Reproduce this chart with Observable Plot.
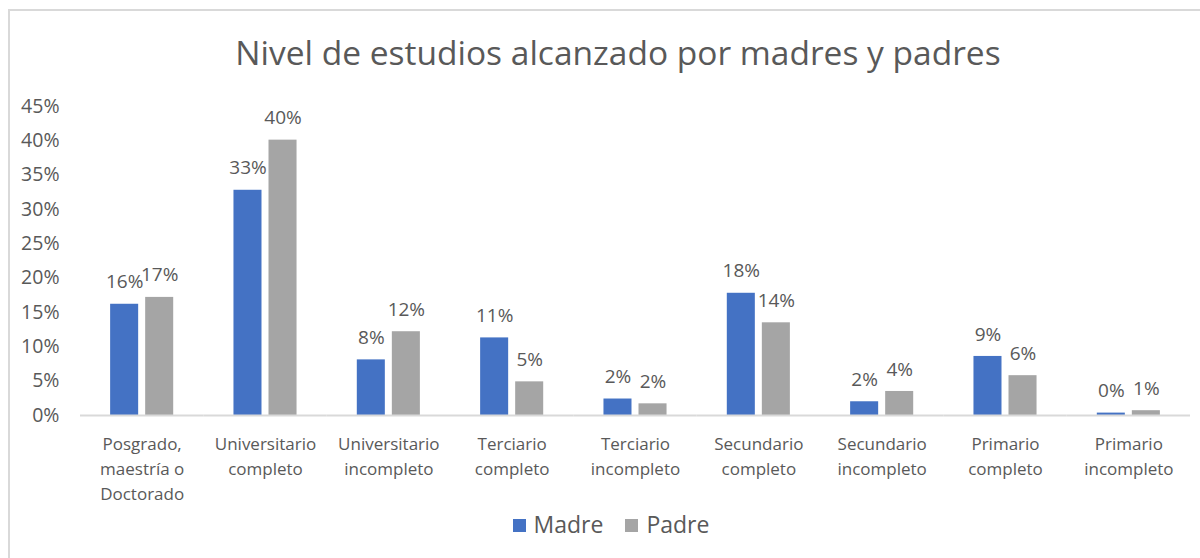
<!DOCTYPE html>
<html>
<head>
<meta charset="utf-8">
<script src="https://cdn.jsdelivr.net/npm/d3@7"></script>
<script src="https://cdn.jsdelivr.net/npm/@observablehq/plot@0.6"></script>
<style>
  html, body { margin: 0; padding: 0; background: #fff; }
  #wrap { position: relative; width: 1200px; height: 558px; overflow: hidden; font-family: "Open Sans", sans-serif; color: #595959; }
  #border { position: absolute; left: 8px; top: 9px; width: 1300px; height: 700px; border: 2px solid #d9d9d9; box-sizing: border-box; }
  #title { position: absolute; left: 0; width: 1236px; top: 32px; text-align: center; font-size: 33.5px; font-weight: 400; color: #595959; line-height: 40px; }
  #chart { position: absolute; left: 0; top: 90px; }
  #legend { position: absolute; left: 0; width: 1222px; top: 509px; text-align: center; font-size: 23px; line-height: 30px; color: #595959; }
  #legend span.item { display: inline-block; margin: 0 11px; }
  #legend span.sw { display: inline-block; width: 13px; height: 13px; margin-right: 8px; vertical-align: 1px; }
</style>
</head>
<body>
<div id="wrap">
  <div id="border"></div>
  <div id="title">Nivel de estudios alcanzado por madres y padres</div>
  <div id="chart"></div>
  <div id="legend"></div>
</div>
<script>
const categories = [
  "Posgrado, maestría o Doctorado",
  "Universitario completo",
  "Universitario incompleto",
  "Terciario completo",
  "Terciario incompleto",
  "Secundario completo",
  "Secundario incompleto",
  "Primario completo",
  "Primario incompleto"
];
const categoryLabels = [
  "Posgrado,\nmaestría o\nDoctorado",
  "Universitario\ncompleto",
  "Universitario\nincompleto",
  "Terciario\ncompleto",
  "Terciario\nincompleto",
  "Secundario\ncompleto",
  "Secundario\nincompleto",
  "Primario\ncompleto",
  "Primario\nincompleto"
];
const series = ["Madre", "Padre"];
const seriesColors = ["#4472C4", "#A5A5A5"];
const madre = [16.2, 32.8, 8.1, 11.3, 2.4, 17.8, 2.0, 8.6, 0.35];
const padre = [17.2, 40.1, 12.2, 4.9, 1.7, 13.5, 3.5, 5.8, 0.7];
const yTicks = [0, 5, 10, 15, 20, 25, 30, 35, 40, 45];

const data = [];
categories.forEach((c, i) => {
  data.push({category: c, series: "Madre", value: madre[i]});
  data.push({category: c, series: "Padre", value: padre[i]});
});
const labelOf = new Map(categories.map((c, i) => [c, categoryLabels[i]]));

const chart = Plot.plot({
  width: 1200,
  height: 420,
  marginLeft: 80,
  marginRight: 10,
  marginTop: 16,
  marginBottom: 95,
  style: {fontFamily: "'Open Sans', sans-serif", fontSize: "18px", color: "#595959", background: "transparent"},
  fx: {domain: categories, padding: 0, round: false, axis: null, label: null},
  x: {domain: series, paddingInner: 0.2, paddingOuter: 0.86, round: false, axis: null, label: null},
  y: {domain: [0, 45], axis: null, label: null},
  color: {domain: series, range: seriesColors},
  marks: [
    Plot.axisY({ticks: yTicks, tickSize: 0, tickPadding: 21, tickFormat: d => d + "%", fontSize: 19.5, label: null}),
    Plot.axisFx({anchor: "bottom", tickSize: 0, tickPadding: 17, tickFormat: d => labelOf.get(d), lineHeight: 1.47, fontSize: 17, label: null}),
    Plot.barY(data, {fx: "category", x: "series", y: "value", fill: "series"}),
    Plot.ruleY([0], {stroke: "#d9d9d9", strokeWidth: 2}),
    Plot.text(data, {fx: "category", x: "series", y: "value", text: d => Math.round(d.value) + "%", dy: -22, fontSize: 19, fill: "#595959"})
  ]
});
document.getElementById("chart").appendChild(chart);

const legend = document.getElementById("legend");
series.forEach((s, i) => {
  const item = document.createElement("span");
  item.className = "item";
  const sw = document.createElement("span");
  sw.className = "sw";
  sw.style.background = seriesColors[i];
  item.appendChild(sw);
  item.appendChild(document.createTextNode(s));
  legend.appendChild(item);
});
</script>
</body>
</html>
